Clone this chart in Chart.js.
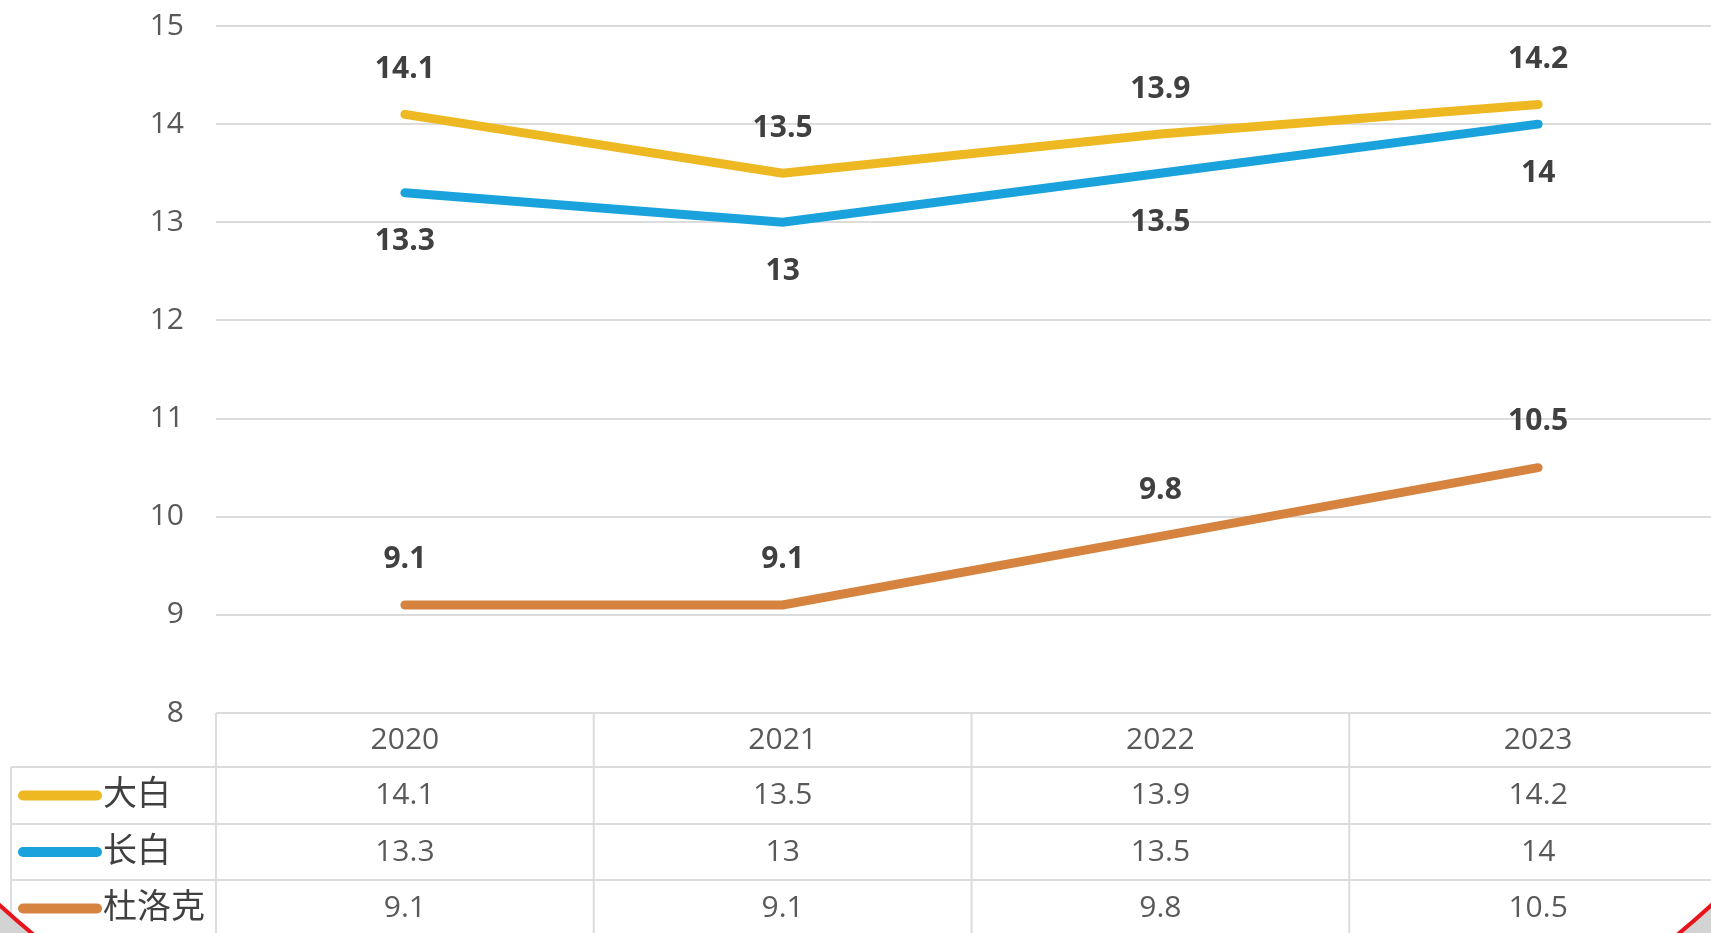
<!DOCTYPE html>
<html>
<head>
<meta charset="utf-8">
<script src="https://cdn.jsdelivr.net/npm/chart.js@4.4.1/dist/chart.umd.min.js"></script>
<style>
    html, body { margin: 0; padding: 0; background: #fff; overflow: hidden; }
    #chartBox { width: 1711px; height: 933px; overflow: hidden; }
    canvas { display: block; }
</style>
</head>
<body>
<div id="chartBox">
    <canvas id="breedChart" width="1760" height="933"></canvas>
</div>
<script>
const years = ['2020', '2021', '2022', '2023'];
const seriesNames = ['大白', '长白', '杜洛克'];
const dabaiValues = [14.1, 13.5, 13.9, 14.2];
const changbaiValues = [13.3, 13, 13.5, 14];
const durocValues = [9.1, 9.1, 9.8, 10.5];
const yMin = 8;
const yMax = 15;
const yStep = 1;

const colors = ['#EEB822', '#1AA2DC', '#D5833F'];
const gridColor = '#DCDCDC';
const numFont = '"Open Sans", "Liberation Sans", sans-serif';
const cjkFont = '"Noto Sans CJK SC", sans-serif';

// data labels: above or below each point
const valueLabels = {
    id: 'valueLabels',
    afterDatasetsDraw(chart) {
        const ctx = chart.ctx;
        ctx.save();
        ctx.font = 'bold 30px ' + numFont;
        ctx.fillStyle = '#404040';
        ctx.textAlign = 'center';
        ctx.textBaseline = 'middle';
        chart.data.datasets.forEach((ds, i) => {
            const meta = chart.getDatasetMeta(i);
            meta.data.forEach((pt, j) => {
                ctx.fillText(String(ds.data[j]), pt.x, pt.y + ds.labelOffset);
            });
        });
        ctx.restore();
    }
};

// data table under the plot, aligned on the x scale
const dataTable = {
    id: 'dataTable',
    afterDraw(chart) {
        const ctx = chart.ctx;
        const x = chart.scales.x;
        const top = chart.chartArea.bottom;
        const colW = x.getPixelForValue(1) - x.getPixelForValue(0);
        const left = x.getPixelForValue(0) - colW / 2;
        const right = x.getPixelForValue(years.length - 1) + colW / 2;
        const rowTops = [top, top + 54, top + 111, top + 167, top + 224];
        const legendLeft = 11;

        ctx.save();
        ctx.strokeStyle = gridColor;
        ctx.lineWidth = 2;
        ctx.beginPath();
        ctx.moveTo(left, rowTops[0]);
        ctx.lineTo(right, rowTops[0]);
        for (let r = 1; r < rowTops.length; r++) {
            ctx.moveTo(legendLeft, rowTops[r]);
            ctx.lineTo(right, rowTops[r]);
        }
        for (let c = 0; c <= years.length; c++) {
            const cx = left + c * colW;
            ctx.moveTo(cx, rowTops[0]);
            ctx.lineTo(cx, rowTops[4]);
        }
        ctx.moveTo(legendLeft, rowTops[1]);
        ctx.lineTo(legendLeft, rowTops[4]);
        ctx.stroke();

        ctx.fillStyle = '#595959';
        ctx.textAlign = 'center';
        ctx.textBaseline = 'middle';
        ctx.font = '30px ' + numFont;
        years.forEach((yr, j) => {
            ctx.fillText(yr, x.getPixelForValue(j), (rowTops[0] + rowTops[1]) / 2);
        });
        chart.data.datasets.forEach((ds, i) => {
            const cy = (rowTops[i + 1] + rowTops[i + 2]) / 2;
            ctx.font = '30px ' + numFont;
            ctx.textAlign = 'center';
            ds.data.forEach((v, j) => {
                ctx.fillText(String(v), x.getPixelForValue(j), cy);
            });
            // legend key
            ctx.strokeStyle = ds.borderColor;
            ctx.lineWidth = 10;
            ctx.lineCap = 'round';
            ctx.beginPath();
            ctx.moveTo(23, cy);
            ctx.lineTo(97, cy);
            ctx.stroke();
            ctx.font = '34px ' + cjkFont;
            ctx.textAlign = 'left';
            ctx.fillStyle = '#404040';
            ctx.fillText(ds.label, 103, cy - 3);
            ctx.fillStyle = '#595959';
        });
        ctx.restore();
    }
};

// red circle overlay seen at the bottom corners of the screenshot
const cornerMark = {
    id: 'cornerMark',
    afterDraw(chart) {
        const ctx = chart.ctx;
        ctx.save();
        ctx.beginPath();
        ctx.rect(0, 600, 1711, 333);
        ctx.clip();
        ctx.beginPath();
        ctx.rect(0, 0, 1711, 933);
        ctx.ellipse(855.5, 466.5, 1068, 733, 0, 0, Math.PI * 2);
        ctx.fillStyle = '#D3D3D3';
        ctx.fill('evenodd');
        ctx.beginPath();
        ctx.ellipse(855.5, 466.5, 1068, 733, 0, 0, Math.PI * 2);
        ctx.strokeStyle = '#E8141B';
        ctx.lineWidth = 4;
        ctx.stroke();
        ctx.restore();
    }
};

function makeDataset(label, values, color, labelOffset) {
    return {
        label: label,
        data: values,
        borderColor: color,
        backgroundColor: color,
        borderWidth: 9,
        borderCapStyle: 'round',
        pointRadius: 0,
        pointHoverRadius: 0,
        tension: 0,
        labelOffset: labelOffset
    };
}

const ctx = document.getElementById('breedChart').getContext('2d');
new Chart(ctx, {
    type: 'line',
    data: {
        labels: years,
        datasets: [
            makeDataset(seriesNames[0], dabaiValues, colors[0], -45),
            makeDataset(seriesNames[1], changbaiValues, colors[1], 49),
            makeDataset(seriesNames[2], durocValues, colors[2], -46)
        ]
    },
    options: {
        responsive: false,
        devicePixelRatio: 1,
        animation: false,
        layout: {
            padding: { top: 26, right: 33, bottom: 0, left: 0 }
        },
        plugins: {
            legend: { display: false },
            tooltip: { enabled: false }
        },
        scales: {
            x: {
                offset: true,
                ticks: { display: false },
                grid: { display: false },
                border: { display: false },
                afterFit: function (scale) { scale.height = 220; }
            },
            y: {
                min: yMin,
                max: yMax,
                ticks: {
                    stepSize: yStep,
                    padding: 32,
                    color: '#595959',
                    font: { family: numFont, size: 30 }
                },
                grid: { color: gridColor, lineWidth: 2, drawTicks: false },
                border: { display: false },
                afterFit: function (scale) {
                    scale.width = 216;
                    scale.paddingTop = 0;
                    scale.paddingBottom = 0;
                }
            }
        }
    },
    plugins: [valueLabels, dataTable, cornerMark]
});
</script>
</body>
</html>
